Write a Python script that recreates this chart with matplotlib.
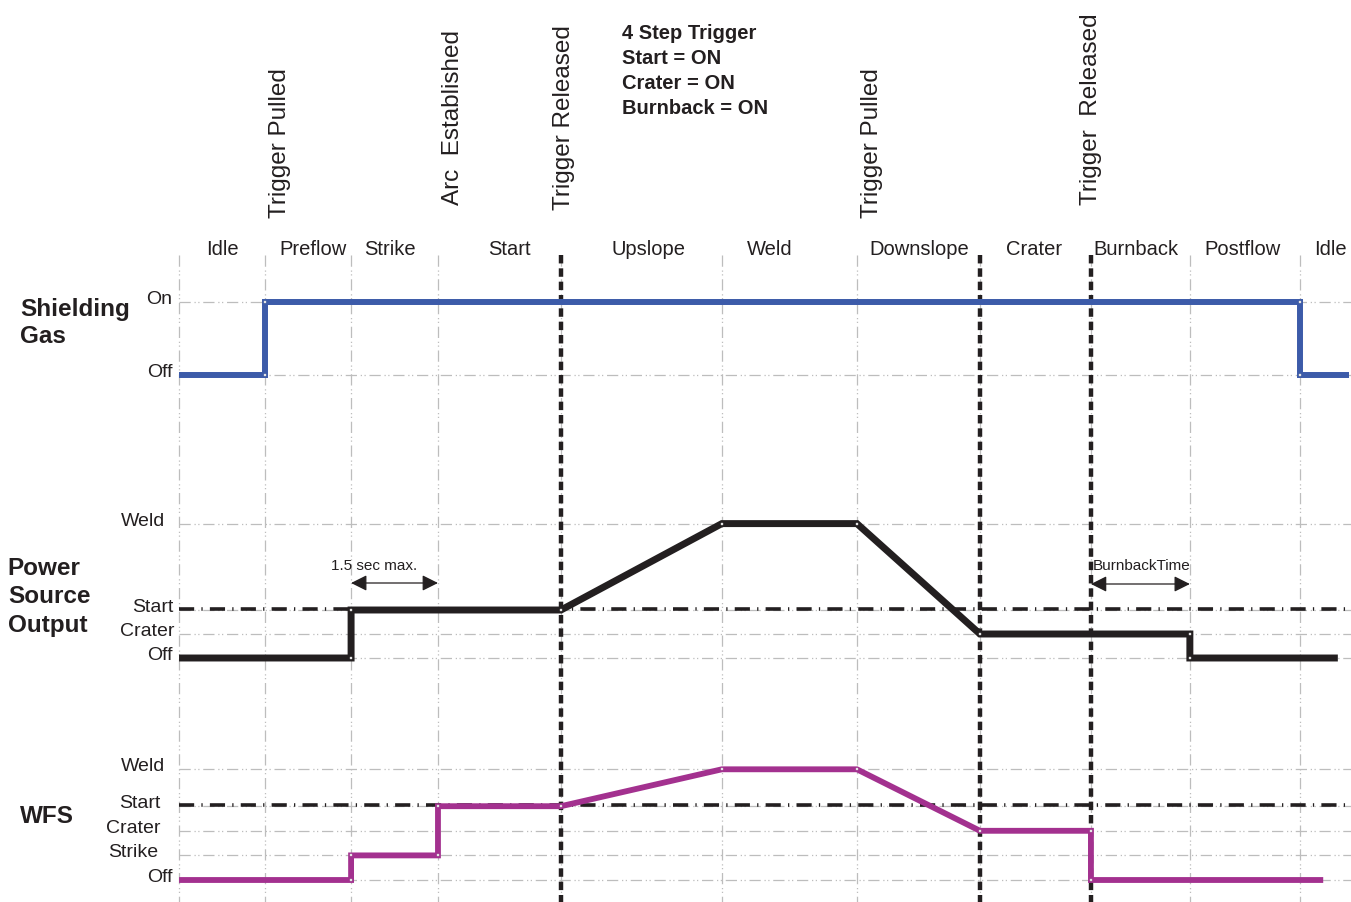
import matplotlib
matplotlib.use('Agg')
import matplotlib.pyplot as plt

plt.rcParams['font.family'] = ['Liberation Sans', 'DejaVu Sans']

# ---------------- data ----------------
# event times (arbitrary time units)
grid_times = [0.0, 1.0, 2.0, 3.01, 4.44, 6.31, 7.88, 9.31, 10.60, 11.75, 13.03]
trigger_times = [4.44, 9.31, 10.60]           # thick dashed markers

phase_labels = ['Idle', 'Preflow', 'Strike', 'Start', 'Upslope', 'Weld',
                'Downslope', 'Crater', 'Burnback', 'Postflow', 'Idle']
event_labels = ['Trigger Pulled', 'Arc  Established', 'Trigger Released',
                'Trigger Pulled', 'Trigger  Released']
note_lines = ['4 Step Trigger', 'Start = ON', 'Crater = ON', 'Burnback = ON']

# Shielding gas: Off=0, On=1
gas_levels = {'Off': 0, 'On': 1}
gas_t = [0.0, 1.0, 1.0, 13.03, 13.03, 13.60]
gas_v = [0, 0, 1, 1, 0, 0]

# Power source output: Off=0, Crater=1, Start=2, Weld=5.6
power_levels = {'Off': 0, 'Crater': 1, 'Start': 2, 'Weld': 5.6}
power_t = [0.0, 2.0, 2.0, 4.44, 6.31, 7.88, 9.31, 11.75, 11.75, 13.47]
power_v = [0, 0, 2, 2, 5.6, 5.6, 1, 1, 0, 0]

# Wire feed speed: Off=0, Strike=1, Crater=2, Start=3, Weld=4.5
wfs_levels = {'Off': 0, 'Strike': 1, 'Crater': 2, 'Start': 3, 'Weld': 4.5}
wfs_t = [0.0, 2.0, 2.0, 3.01, 3.01, 4.44, 6.31, 7.88, 9.31, 10.60, 10.60, 13.30]
wfs_v = [0, 0, 1, 1, 3, 3, 4.5, 4.5, 2, 2, 0, 0]

strike_window = (2.0, 3.01)
burnback_window = (10.60, 11.75)

# ---------------- layout ----------------
fig = plt.figure(figsize=(13.51, 9.03), dpi=100)
ax = fig.add_axes([0, 0, 1, 1])
ax.set_xlim(-2.081, 13.623)
ax.set_ylim(903, 0)
ax.axis('off')

panels = {
    'gas': dict(base=376, scale=73),
    'power': dict(base=659, scale=24),
    'wfs': dict(base=881, scale=24.6),
}

def Y(panel, v):
    p = panels[panel]
    if isinstance(v, (list, tuple)):
        return [p['base'] - x * p['scale'] for x in v]
    return p['base'] - v * p['scale']

XMAX = 13.623
GRID_C = '#bdbdbd'
grid_ls = (0, (9, 3, 1, 2, 1, 3))
INK = '#231f20'

# vertical grid lines
for t in grid_times:
    ax.plot([t, t], [256, 903], color=GRID_C, lw=0.9, ls=grid_ls, zorder=1)

# horizontal grid lines for each level
for name, levels in (('gas', gas_levels), ('power', power_levels), ('wfs', wfs_levels)):
    for lab, v in levels.items():
        ax.plot([0, XMAX], [Y(name, v)] * 2, color=GRID_C, lw=0.9, ls=grid_ls, zorder=1)

# black dash-dot reference lines at Start level
for name, levels in (('power', power_levels), ('wfs', wfs_levels)):
    ax.plot([0, XMAX], [Y(name, levels['Start']) - 1.5] * 2, color=INK, lw=2.6,
            ls=(0, (4.2, 2.0, 0.35, 2.0)), zorder=2)

# thick dashed trigger markers
for t in trigger_times:
    ax.plot([t, t], [256, 903], color=INK, lw=3.2, ls=(0, (1.9, 1.1)), zorder=2)

# signals
sig = [('gas', gas_t, gas_v, '#3c5ba9', 4.3),
       ('power', power_t, power_v, INK, 5.0),
       ('wfs', wfs_t, wfs_v, '#a3318f', 4.2)]
for name, t, v, c, lw in sig:
    ax.plot(t, Y(name, v), color=c, lw=lw, solid_joinstyle='miter',
            solid_capstyle='butt', zorder=4)
    ax.plot(t[1:-1], Y(name, v)[1:-1], ls='none', marker='s', ms=2.0,
            mfc='white', mec='#bbbbbb', mew=0.3, zorder=5)

# phase labels
phase_x = [0.5, 1.56, 2.45, 3.84, 5.46, 6.87, 8.61, 9.94, 11.12, 12.36, 13.38]
for x, lab in zip(phase_x, phase_labels):
    ax.text(x, 255, lab, ha='center', va='baseline', fontsize=14.5, color=INK)

# rotated event labels
event_x = [1.17, 3.19, 4.47, 8.05, 10.60]
event_y = [218, 205, 210, 218, 205]
for x, y, lab in zip(event_x, event_y, event_labels):
    ax.text(x, y, lab, rotation=90, ha='center', va='bottom', fontsize=17.5, color=INK)

# level labels
level_right = {
    'gas': {'On': -0.08, 'Off': -0.08},
    'power': {'Weld': -0.16, 'Start': -0.06, 'Crater': -0.05, 'Off': -0.08},
    'wfs': {'Weld': -0.16, 'Start': -0.21, 'Crater': -0.21, 'Strike': -0.24, 'Off': -0.08},
}
for name, levels in (('gas', gas_levels), ('power', power_levels), ('wfs', wfs_levels)):
    for lab, v in levels.items():
        ax.text(level_right[name][lab], Y(name, v) + 1, lab, ha='right', va='baseline',
                fontsize=14, color=INK)

# panel titles
ax.text(-1.848, 323, 'Shielding\nGas', ha='left', va='center', fontsize=17.5,
        fontweight='bold', linespacing=1.2, color=INK)
ax.text(-1.99, 597, 'Power\nSource\nOutput', ha='left', va='center', fontsize=17.5,
        fontweight='bold', linespacing=1.28, color=INK)
ax.text(-1.848, 817, 'WFS', ha='left', va='center', fontsize=17.5,
        fontweight='bold', color=INK)

# trigger-mode note (one line every 25 px)
for i, line in enumerate(note_lines):
    ax.text(5.15, 39 + 25 * i, line, ha='left', va='baseline', fontsize=14.5,
            fontweight='bold', color=INK)

# timing arrows
arrow_kw = dict(arrowstyle='<|-|>', color=INK, lw=0.9, mutation_scale=24,
                shrinkA=0, shrinkB=0)
ax.annotate('', xy=(strike_window[1], 584), xytext=(strike_window[0], 584),
            arrowprops=arrow_kw, zorder=6)
ax.text(sum(strike_window) / 2 - 0.24, 570, '1.5 sec max.', ha='center', va='baseline',
        fontsize=11, color=INK)
ax.annotate('', xy=(burnback_window[1], 585), xytext=(burnback_window[0], 585),
            arrowprops=arrow_kw, zorder=6)
ax.text(burnback_window[0] + 0.02, 570, 'BurnbackTime', ha='left', va='baseline',
        fontsize=11, color=INK)

fig.savefig('out.png', dpi=100, facecolor='white')
